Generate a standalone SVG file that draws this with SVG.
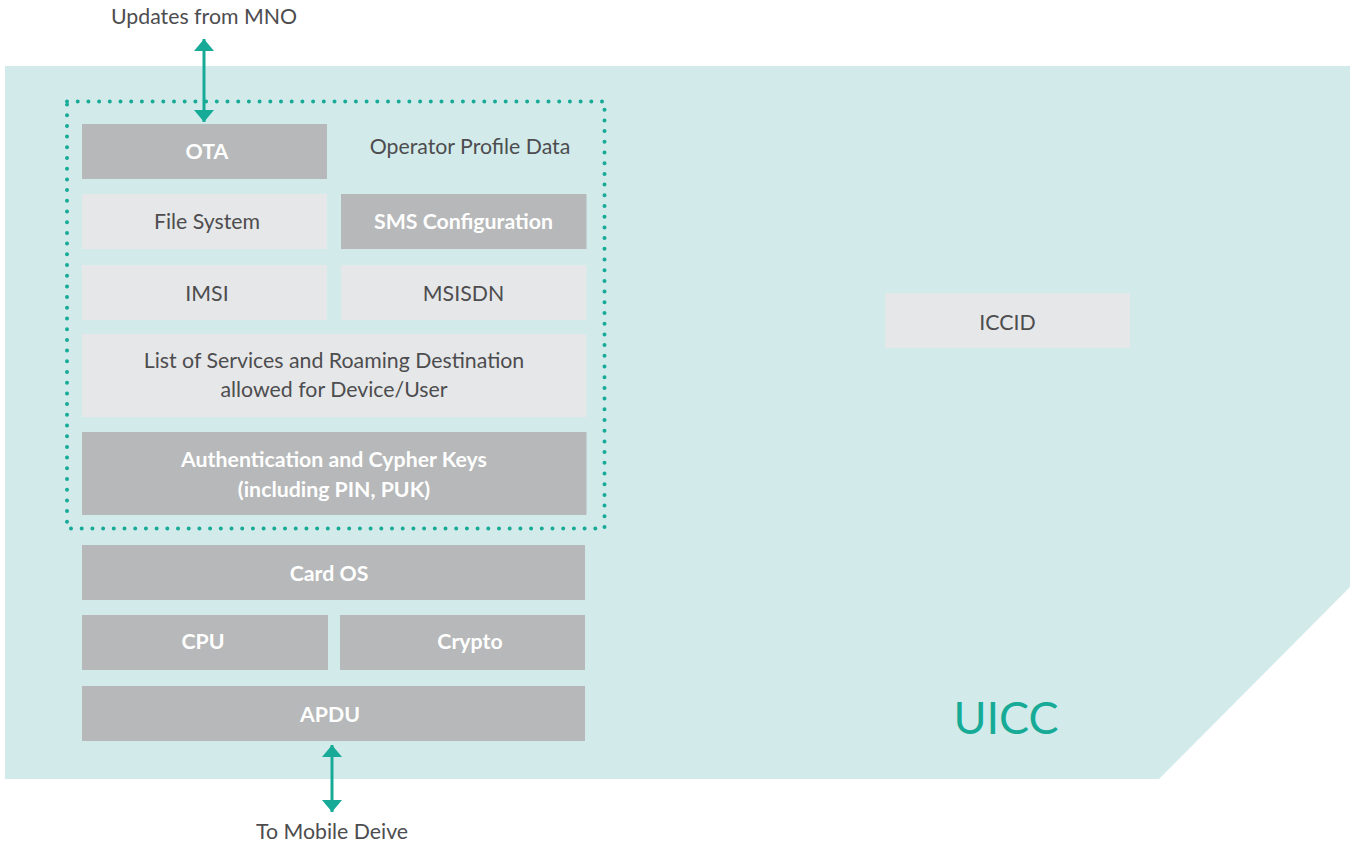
<svg xmlns="http://www.w3.org/2000/svg" width="1352" height="845" viewBox="0 0 1352 845">
<style>
text{font-family:Lato,"Noto Sans","Liberation Sans",sans-serif;text-anchor:middle;dominant-baseline:central}
.dark{fill:#b6b8b9}
.light{fill:#e6e7e8}
.tw{fill:#ffffff;font-weight:bold;font-size:21.3px}
.td{fill:#4d4d4f;font-size:21.3px}
.conn{stroke:#17ab97;stroke-width:3;fill:none}
</style>
<defs>
<marker id="ah" viewBox="0 0 12 20" refX="12" refY="10" markerWidth="12" markerHeight="20" markerUnits="userSpaceOnUse" orient="auto-start-reverse">
<path d="M0,0 L12,10 L0,20 Z" fill="#17ab97"/>
</marker>
</defs>
<rect width="1352" height="845" fill="#ffffff"/>
<path id="uicc-bg" d="M5,66 H1350 V587 L1159,779 H5 Z" fill="#d2ebea"/>
<g id="profile-border">
<rect x="67" y="101.5" width="537.5" height="427" fill="none" stroke="#17ab97" stroke-width="4" stroke-linecap="round" stroke-dasharray="0 10.7"/>
<text x="470" y="146" class="td">Operator Profile Data</text>
</g>
<g id="ota"><rect x="82" y="124" width="245" height="55" class="dark"/><text x="207" y="150.5" class="tw">OTA</text></g>
<g id="filesystem"><rect x="82" y="194" width="245" height="55" class="light"/><text x="207" y="220.5" class="td">File System</text></g>
<g id="sms"><rect x="341" y="194" width="245.5" height="55" class="dark"/><text x="463.5" y="220.5" class="tw">SMS Configuration</text></g>
<g id="imsi"><rect x="82" y="265" width="245" height="55" class="light"/><text x="207" y="293" class="td">IMSI</text></g>
<g id="msisdn"><rect x="341" y="265" width="245.5" height="55" class="light"/><text x="463.5" y="293" class="td">MSISDN</text></g>
<g id="services"><rect x="82" y="334" width="504.5" height="83" class="light"/><text x="334" y="359.5" class="td">List of Services and Roaming Destination</text><text x="334" y="389" class="td">allowed for Device/User</text></g>
<g id="auth"><rect x="82" y="432" width="504.5" height="83" class="dark"/><text x="334" y="458.5" class="tw">Authentication and Cypher Keys</text><text x="334" y="489" class="tw">(including PIN, PUK)</text></g>
<g id="cardos"><rect x="82" y="545" width="503" height="55" class="dark"/><text x="329" y="573" class="tw">Card OS</text></g>
<g id="cpu"><rect x="82" y="615" width="246" height="55" class="dark"/><text x="203" y="640.5" class="tw">CPU</text></g>
<g id="crypto"><rect x="340" y="615" width="245" height="55" class="dark"/><text x="470" y="640.5" class="tw">Crypto</text></g>
<g id="apdu"><rect x="82" y="686" width="503" height="55" class="dark"/><text x="330" y="713.5" class="tw">APDU</text></g>
<g id="iccid"><rect x="885" y="293" width="245" height="55" class="light"/><text x="1007.5" y="321.5" class="td">ICCID</text></g>
<g id="uicc-label"><text x="1006" y="717" fill="#17ab97" font-size="45">UICC</text></g>
<g id="mno-label"><text x="204" y="16" class="td">Updates from MNO</text></g>
<g id="mobile-label"><text x="332" y="831" class="td">To Mobile Deive</text></g>
<g id="connectors">
<line x1="204" y1="39" x2="204" y2="122" class="conn" marker-start="url(#ah)" marker-end="url(#ah)"/>
<line x1="332" y1="745" x2="332" y2="812" class="conn" marker-start="url(#ah)" marker-end="url(#ah)"/>
</g>
</svg>
